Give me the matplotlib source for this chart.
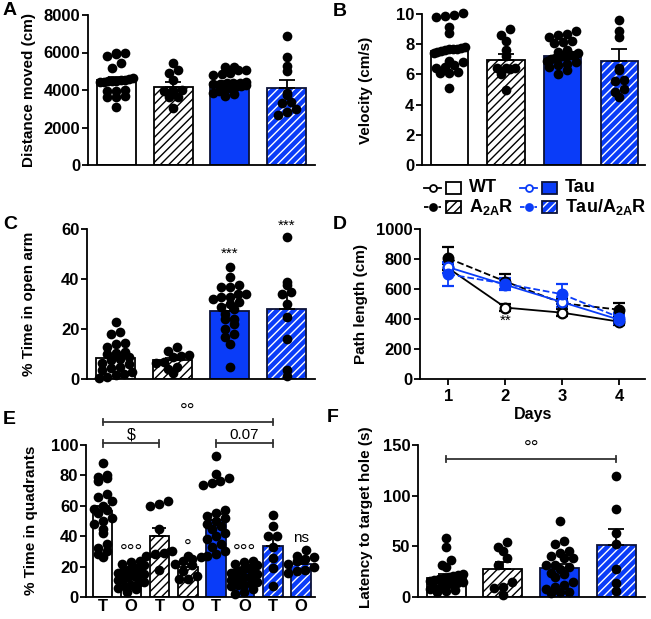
import numpy as np
import matplotlib
matplotlib.use('Agg')
import matplotlib.pyplot as plt
from matplotlib.patches import Rectangle
from matplotlib.lines import Line2D

W, H = 651, 619
BLUE = '#0a3cf8'
DARK = '#0c1238'

plt.rcParams['font.family'] = ['Liberation Sans', 'DejaVu Sans']
plt.rcParams['font.weight'] = 'bold'
plt.rcParams['hatch.linewidth'] = 1.0
plt.rcParams['mathtext.fontset'] = 'custom'
plt.rcParams['mathtext.rm'] = 'Liberation Sans:bold'
plt.rcParams['mathtext.bf'] = 'Liberation Sans:bold'

kinds = ['wt', 'a2ar', 'tau', 'ta']

# A: distance moved (cm)
dist_wt = [6000, 5900, 5950, 5800, 5450, 5200, 4650, 4600, 4550, 4550, 4500, 4500,
           4500, 4450, 4450, 4000, 3950, 3950, 3700, 3650, 3650, 3100]
dist_a2ar = [5420, 5070, 4930, 4550, 4000, 3950, 3950, 3650, 3650, 3050]
dist_tau = [5250, 5050, 5050, 5250, 4850, 4800, 4900, 4450, 4400, 4350, 4350, 4300,
            4300, 4250, 4200, 4150, 4100, 4000, 3950, 3850, 3800, 3700]
dist_ta = [6880, 5740, 5300, 5030, 3860, 3730, 3380, 3290, 2970, 2840, 2670]
dist_mean = [4520, 4150, 4360, 4100]
dist_sem = [160, 260, 100, 450]

# B: velocity (cm/s)
vel_wt = [10.05, 9.95, 9.9, 9.8, 9.15, 8.75, 7.8, 7.75, 7.7, 7.7, 7.65, 7.6, 7.55, 7.5,
          7.45, 6.9, 6.8, 6.6, 6.5, 6.45, 6.15, 6.1, 6.1, 5.1]
vel_a2ar = [9.0, 8.6, 8.2, 7.6, 7.2, 6.45, 6.4, 6.4, 6.35, 6.0, 5.0]
vel_tau = [8.85, 8.7, 8.6, 8.5, 8.2, 8.15, 8.1, 7.6, 7.5, 7.4, 7.3, 7.3, 7.25, 7.2,
           7.15, 7.1, 7.0, 6.9, 6.8, 6.7, 6.6, 6.5, 6.3, 6.05]
vel_ta = [9.6, 8.85, 8.45, 6.4, 6.3, 5.65, 5.55, 5.05, 4.85, 4.5]
vel_mean = [7.55, 6.95, 7.25, 6.9]
vel_sem = [0.2, 0.4, 0.15, 0.75]

# C: % time in open arm
open_wt = [23, 19, 18, 14.5, 14, 13, 11, 10.5, 10, 9, 8, 7.5, 6.5, 6, 5, 4.5, 3.5, 3,
           2, 1.5, 1, 0.3]
open_a2ar = [12.7, 11.3, 9.5, 9.2, 9.0, 7.0, 6.5, 5.0, 4.0, 2.3]
open_tau = [45, 41, 37.5, 37, 37, 34, 34, 33, 33, 32, 31, 30, 29, 28, 26, 24, 24, 22,
            20, 18, 17, 14, 5]
open_ta = [57, 39, 37.5, 35, 34, 30, 25, 16, 3.6, 1.2]
open_mean = [8.3, 7.6, 27.3, 27.9]
open_sem = [1.5, 1.0, 2.5, 5.7]

# D: path length (cm) per day
days = [1, 2, 3, 4]
path_wt = [738, 476, 442, 382]
path_wt_err = [30, 22, 25, 20]
path_a2ar = [804, 650, 505, 462]
path_a2ar_err = [75, 50, 30, 48]
path_tau = [745, 628, 512, 395]
path_tau_err = [35, 30, 35, 30]
path_ta = [698, 635, 565, 410]
path_ta_err = [75, 40, 68, 30]

# E: % time in quadrants (T = target, O = other)
quad_labels = ['T', 'O', 'T', 'O', 'T', 'O', 'T', 'O']
quad_wt_t = [88, 79, 78, 80, 76, 68, 66, 63, 60, 58, 57, 55, 52, 50, 48, 45, 42, 35,
             32, 30, 28, 26]
quad_wt_o = [24, 23, 22, 21, 20, 19, 18, 17, 16, 15, 15, 14, 13, 12, 11, 10, 9, 8, 7,
             6, 5, 3]
quad_a2ar_t = [63, 61, 60, 45, 30, 29, 28, 27, 18]
quad_a2ar_o = [27, 26, 25, 24, 22, 21, 17, 14, 12, 12]
quad_tau_t = [93, 81, 78, 76, 75, 74, 57, 55, 53, 52, 50, 48, 47, 45, 42, 40, 38, 35,
              33, 30, 28, 27]
quad_tau_o = [24, 23, 22, 21, 20, 19, 18, 17, 16, 15, 14, 13, 12, 11, 10, 9, 8, 8, 7,
              5, 3, 2]
quad_ta_t = [54, 47, 40, 40, 33, 25.5, 19, 7]
quad_ta_o = [31, 27, 26, 25, 24, 22, 20, 18, 17, 16]
quad_mean = [56.5, 14.3, 40.0, 20.0, 50.8, 16.2, 33.5, 22.0]
quad_sem = [3.5, 1.3, 5.5, 2.0, 4.0, 1.3, 6.3, 2.7]

# F: latency to target hole (s)
lat_wt = [58, 49, 37, 32, 30, 23, 22, 21, 20, 19, 18, 17, 16, 15, 14, 13, 12, 10, 9,
          8, 7, 6, 5]
lat_a2ar = [54, 49, 45, 38, 32, 15, 10, 9, 2]
lat_tau = [75, 55, 52, 45, 43, 40, 38, 38, 32, 32, 30, 28, 24, 23, 20, 15, 12, 10, 8,
           5, 5, 4]
lat_ta = [119, 87, 63, 52, 28, 14, 6]
lat_mean = [18.5, 28.0, 28.5, 51.3]
lat_sem = [4.0, 6.5, 4.5, 15.8]

fig = plt.figure(figsize=(W / 100, H / 100), dpi=100)


def px_axes(l, t, r, b):
    ax = fig.add_axes([l / W, 1 - b / H, (r - l) / W, (b - t) / H])
    ax.patch.set_alpha(0)
    return ax


def fxy(x, y):
    return x / W, 1 - y / H


def style(ax, xlim, ylim, yticks):
    ax.set_xlim(*xlim)
    ax.set_ylim(*ylim)
    ax.set_yticks(yticks)
    for s in ('top', 'right'):
        ax.spines[s].set_visible(False)
    for s in ('left', 'bottom'):
        ax.spines[s].set_linewidth(1.3)
    ax.tick_params(axis='y', length=4, width=1.3, pad=1.5, labelsize=12)
    ax.tick_params(axis='x', length=0, labelsize=12)
    ax.set_xticks([])


def bar(ax, x, h, w, kind):
    if kind == 'wt':
        ax.bar(x, h, w, color='white', edgecolor='black', lw=1.3, zorder=2)
    elif kind == 'a2ar':
        ax.bar(x, h, w, color='white', edgecolor='black', hatch='////', lw=1.3, zorder=2)
    elif kind == 'tau':
        ax.bar(x, h, w, color=BLUE, edgecolor=DARK, lw=1.3, zorder=2)
    else:
        ax.bar(x, h, w, color=BLUE, edgecolor='white', hatch='////', lw=0, zorder=2)
        ax.bar(x, h, w, fill=False, edgecolor=DARK, lw=1.3, zorder=2.1)


def scatter_rows(ax, x0, vals, w, d=9.0, row=8.0):
    # GraphPad-like: bin values into rows, spread each row around the centre
    bb = ax.get_position()
    x0l, x1l = ax.get_xlim()
    y0l, y1l = ax.get_ylim()
    sx = bb.width * W / (x1l - x0l)
    sy = bb.height * H / (y1l - y0l)
    vals = np.asarray(vals, float)
    ys = vals * sy
    maxw = max(w * sx - 6, 26)
    xs = np.zeros(len(vals))
    bins = np.floor(ys / row).astype(int)
    for b in np.unique(bins):
        idx = np.where(bins == b)[0]
        idx = idx[np.argsort(vals[idx])]
        n = len(idx)
        if n > 1:
            s = min(d, maxw / (n - 1))
            xs[idx] = (np.arange(n) - (n - 1) / 2) * s
    ax.plot(x0 + xs / sx, vals, 'o', ms=7, color='black', mew=0, zorder=3, clip_on=False)


def bar_panel(ax, groups, means, sems, kinds_, w=0.69, cap=6):
    for i, (g, m, k) in enumerate(zip(groups, means, kinds_)):
        bar(ax, i, m, w, k)
        scatter_rows(ax, i, g, w)
    x = np.arange(len(means))
    ax.errorbar(x, means, yerr=[np.zeros(len(sems)), sems], fmt='none', ecolor='black',
                elinewidth=1.3, capsize=cap, capthick=1.3, zorder=4)


def bracket(ax, x1, x2, y, tick):
    ax.plot([x1, x2], [y, y], color='#333333', lw=1.3, clip_on=False)
    for xx in (x1, x2):
        ax.plot([xx, xx], [y - tick, y + tick], color='#333333', lw=1.3, clip_on=False)


# ---- A
axA = px_axes(88, 15, 315, 165)
style(axA, (-0.5, 3.5), (0, 8000), [0, 2000, 4000, 6000, 8000])
bar_panel(axA, [dist_wt, dist_a2ar, dist_tau, dist_ta], dist_mean, dist_sem, kinds)

# ---- B
axB = px_axes(422, 14, 645, 165)
style(axB, (-0.48, 3.45), (0, 10), [0, 2, 4, 6, 8, 10])
bar_panel(axB, [vel_wt, vel_a2ar, vel_tau, vel_ta], vel_mean, vel_sem, kinds, w=0.66)

# ---- C
axC = px_axes(87, 229, 315, 379)
style(axC, (-0.5, 3.5), (0, 60), [0, 20, 40, 60])
bar_panel(axC, [open_wt, open_a2ar, open_tau, open_ta], open_mean, open_sem, kinds)
axC.text(2, 50, '***', ha='center', va='center', fontsize=11, fontweight='normal')
axC.text(3, 61.2, '***', ha='center', va='center', fontsize=11, fontweight='normal')

# ---- D
axD = px_axes(420, 229, 645, 379)
style(axD, (0.5, 4.45), (0, 1000), [0, 200, 400, 600, 800, 1000])
axD.set_xticks(days)
axD.tick_params(axis='x', length=4, width=1.3, pad=3, labelsize=12)
series = [
    (path_wt, path_wt_err, 'black', '-', 'white'),
    (path_a2ar, path_a2ar_err, 'black', '--', 'black'),
    (path_tau, path_tau_err, BLUE, '-', 'white'),
    (path_ta, path_ta_err, BLUE, '--', BLUE),
]
for vals, err, col, ls, mfc in series:
    axD.errorbar(days, vals, yerr=err, color=col, ls=ls, lw=1.3, marker='o', ms=7,
                 mfc=mfc, mec=col, mew=1.6, capsize=4, capthick=1.3, elinewidth=1.3,
                 zorder=3)
axD.text(2, 387, '**', ha='center', va='center', fontsize=11, fontweight='normal')
fig.text(*fxy(533, 415), 'Days', ha='center', va='center', fontsize=11.5)

# ---- E
axE = px_axes(86, 400, 315, 597)
style(axE, (-0.59, 7.49), (0, 129.6), [0, 20, 40, 60, 80, 100])
axE.spines['left'].set_bounds(0, 100)
quad_groups = [quad_wt_t, quad_wt_o, quad_a2ar_t, quad_a2ar_o,
               quad_tau_t, quad_tau_o, quad_ta_t, quad_ta_o]
quad_kinds = [k for k in kinds for _ in range(2)]
bar_panel(axE, quad_groups, quad_mean, quad_sem, quad_kinds, w=0.69, cap=5)
axE.set_xticks(range(len(quad_labels)))
axE.set_xticklabels(quad_labels)
axE.tick_params(axis='x', length=0, pad=1.5, labelsize=12)
bracket(axE, 0, 6, 115.1, 2.2)
bracket(axE, 0, 2, 101.1, 2.2)
bracket(axE, 4, 6, 101.1, 2.2)
axE.text(3, 122, '°°', ha='center', va='center', fontsize=14, fontweight='normal')
axE.text(1, 106.6, '$', ha='center', va='center', fontsize=11.5, fontweight='normal')
axE.text(5, 106.6, '0.07', ha='center', va='center', fontsize=11, fontweight='normal')
axE.text(1, 29.5, '°°°', ha='center', va='center', fontsize=14, fontweight='normal')
axE.text(3, 32.4, '°', ha='center', va='center', fontsize=14, fontweight='normal')
axE.text(5, 29.5, '°°°', ha='center', va='center', fontsize=14, fontweight='normal')
axE.text(7, 38.8, 'ns', ha='center', va='center', fontsize=11, fontweight='normal')

# ---- F
axF = px_axes(418, 445, 645, 597)
style(axF, (-0.5, 3.51), (0, 150), [0, 50, 100, 150])
bar_panel(axF, [lat_wt, lat_a2ar, lat_tau, lat_ta], lat_mean, lat_sem, kinds)
bracket(axF, 0, 3, 136.2, 3)
axF.text(1.5, 147, '°°', ha='center', va='center', fontsize=14, fontweight='normal')

# ---- y labels and panel letters
ylabels = [
    ('Distance moved (cm)', 22, 90),
    ('Velocity (cm/s)', 359, 90),
    ('% Time in open arm', 22, 304),
    ('Path length (cm)', 354, 304),
    ('% Time in quadrants', 24, 520),
    ('Latency to target hole (s)', 359, 517),
]
for txt, x, y in ylabels:
    fig.text(*fxy(x, y), txt, rotation=90, ha='left', va='center', fontsize=11)

letters = [('A', 3, 2), ('B', 333, 3), ('C', 3, 216), ('D', 333, 216),
           ('E', 3, 411), ('F', 327, 409)]
for t, x, y in letters:
    fig.text(*fxy(x, y), t, ha='left', va='top', fontsize=14)

# ---- legend (shared)
leg = fig.add_axes([0, 0, 1, 1])
leg.set_xlim(0, W)
leg.set_ylim(H, 0)
leg.axis('off')
legend_items = [
    ('WT', 'wt', 'black', '-', 'white', 424, 188),
    ('A$_{\\mathbf{2A}}$R', 'a2ar', 'black', '--', 'black', 424, 207),
    ('Tau', 'tau', BLUE, '-', 'white', 520, 188),
    ('Tau/A$_{\\mathbf{2A}}$R', 'ta', BLUE, '--', BLUE, 520, 207),
]
for lab, kind, col, ls, mfc, x, y in legend_items:
    leg.add_line(Line2D([x, x + 17], [y, y], color=col, ls=ls, lw=1.3,
                        dashes=(2.5, 1.5) if ls == '--' else (None, None)))
    leg.plot([x + 8.5], [y], 'o', ms=5, mfc=mfc, mec=col, mew=1.3)
    if kind == 'wt':
        leg.add_patch(Rectangle((x + 22, y - 6), 15, 12, fc='white', ec='black', lw=1.3))
    elif kind == 'a2ar':
        leg.add_patch(Rectangle((x + 22, y - 6), 15, 12, fc='white', ec='black', lw=1.3,
                                hatch='////'))
    elif kind == 'tau':
        leg.add_patch(Rectangle((x + 22, y - 6), 15, 12, fc=BLUE, ec=DARK, lw=1.3))
    else:
        leg.add_patch(Rectangle((x + 22, y - 6), 15, 12, fc=BLUE, ec='white', lw=0,
                                hatch='////'))
        leg.add_patch(Rectangle((x + 22, y - 6), 15, 12, fill=False, ec=DARK, lw=1.3))
    leg.text(x + 45, y, lab, ha='left', va='center', fontsize=13)

fig.savefig('out.png', dpi=100)
